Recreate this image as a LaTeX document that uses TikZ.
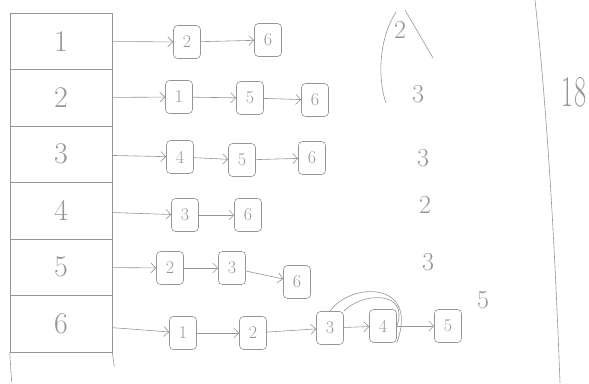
\documentclass[tikz,border=0pt]{standalone}
\usepackage{tikz}
\usetikzlibrary{arrows.meta,positioning}
\definecolor{pencil}{RGB}{150,150,150}

\tikzset{
  cell/.style={draw=pencil, minimum width=102pt, minimum height=56.5pt, inner sep=0pt,
    text=pencil, font=\fontsize{30}{30}\selectfont},
  item/.style={draw=pencil, rounded corners=4pt, minimum width=27pt, minimum height=33pt,
    inner sep=0pt, text=pencil, font=\fontsize{18}{18}\selectfont},
  link/.style={draw=pencil, -{Straight Barb[length=5pt,width=10pt]}},
  deg/.style={text=pencil, inner sep=0pt, font=\fontsize{26}{26}\selectfont}
}

\begin{document}
\begin{tikzpicture}[x=1pt, y=-1pt, line width=0.6pt]
  \useasboundingbox (0,0) rectangle (589,383);
  % index column
  \foreach \i in {1,...,6}
    \node[cell] (c\i) at (61,{13+56.5*(\i-0.5)}) {\i};
  \draw[pencil] (c6.south west) -- ++(2,30);
  \draw[pencil] (c6.south east) -- ++(2,14);

  % lists
  \node[item] (a12) at (187,42) {2};
  \node[item] (a16) at (268,40) {6};
  \node[item] (a21) at (179,97) {1};
  \node[item] (a25) at (250,98) {5};
  \node[item] (a26) at (315,100) {6};
  \node[item] (a34) at (180,157) {4};
  \node[item] (a35) at (242,160) {5};
  \node[item] (a36) at (312,158) {6};
  \node[item] (a43) at (185,215) {3};
  \node[item] (a46) at (248,215) {6};
  \node[item] (a52) at (170,268) {2};
  \node[item] (a53) at (232,268) {3};
  \node[item] (a56) at (297,282) {6};
  \node[item] (a61) at (183,333) {1};
  \node[item] (a62) at (253,333) {2};
  \node[item] (a63) at (330,328) {3};
  \node[item] (a64) at (383,326) {4};
  \node[item] (a65) at (448,326) {5};

  \foreach \s/\t in {c1/a12, a12/a16, c2/a21, a21/a25, a25/a26, c3/a34, a34/a35, a35/a36,
      c4/a43, a43/a46, c5/a52, a52/a53, a53/a56, c6/a61, a61/a62, a62/a63, a63/a64, a64/a65}
    \draw[link] (\s) -- (\t);

  % scribbles round 4
  \draw[pencil] (a63.north) .. controls (350,282) and (420,280) .. (a64.south east);
  \draw[pencil] (a63.north east) .. controls (362,292) and (410,290) .. (a64.east);

  % degrees
  \node[deg] (d1) at (400,30) {2};
  \node[deg] (d2) at (418,94) {3};
  \node[deg] (d3) at (423,158) {3};
  \node[deg] (d4) at (425,205) {2};
  \node[deg] (d5) at (428,262) {3};
  \node[deg] (d6) at (483,300) {5};
  \draw[pencil] (396,12) .. controls (378,40) and (378,80) .. (386,103);
  \draw[pencil] (405,10) -- (433,58);

  % total
  \draw[pencil] (535,0) .. controls (548,120) and (555,250) .. (560,383);
  \node[deg, font=\fontsize{44}{44}\selectfont] (total) at (574,92) {\scalebox{0.6}[1]{18}};
\end{tikzpicture}
\end{document}
